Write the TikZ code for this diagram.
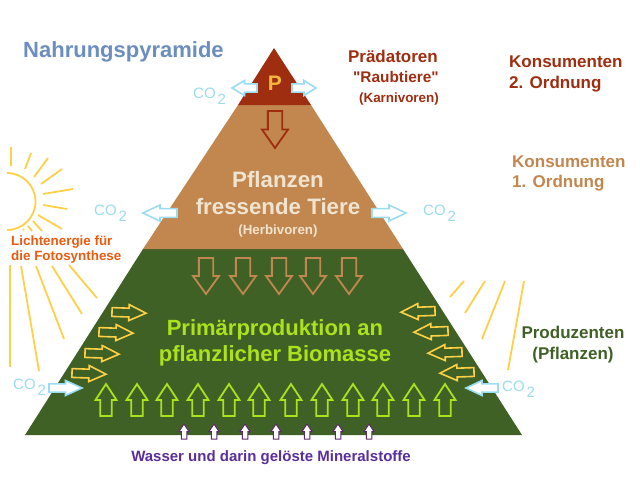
\documentclass[tikz,border=0pt]{standalone}
\usepackage{fontspec}
\setmainfont{Liberation Sans}[Ligatures=TeXOff]
\usetikzlibrary{positioning}

\definecolor{tierred}{HTML}{9F2D10}
\definecolor{tierbrown}{HTML}{C1874F}
\definecolor{tiergreen}{HTML}{406126}
\definecolor{titleblue}{HTML}{6C8EBF}
\definecolor{coblue}{HTML}{9ADCF0}
\definecolor{sunyellow}{HTML}{FFD045}
\definecolor{lime}{HTML}{ABE21C}
\definecolor{orangetext}{HTML}{EB5A10}
\definecolor{purpletext}{HTML}{5B2D9A}
\definecolor{plum}{HTML}{5E2A6E}
\definecolor{cream}{HTML}{F0E4D0}
\definecolor{palep}{HTML}{F5B83D}

\newcommand{\cotwo}{CO\kern2pt\raisebox{-6pt}{2}}
\newcommand{\fs}[1]{\fontsize{#1}{#1}\selectfont}

\tikzset{
  hollowarrow/.pic={
    \draw[pic actions] (0,-.275) -- (.5,-.275) -- (.5,-.5) -- (1,0) -- (.5,.5) -- (.5,.275) -- (0,.275) -- cycle;
  },
  label/.style={inner sep=0pt, font=\bfseries},
  coarrow/.style={draw=coblue, fill=white, line width=1.6pt},
  colabel/.style={inner sep=0pt, anchor=west, text=coblue, font=\fs{15}},
  sunray/.style={draw=sunyellow, line width=1.8pt},
  limearrow/.style={draw=lime, line width=1.8pt},
  brownarrow/.style={draw=tierbrown, line width=1.8pt},
  yellowarrow/.style={draw=sunyellow, line width=1.6pt},
  plumarrow/.style={draw=plum, fill=white, line width=1pt},
}

\begin{document}
\begin{tikzpicture}[x=1pt,y=-1pt]
    \useasboundingbox (0,0) rectangle (640,479);

    \fill[tiergreen] (143,249) -- (403,249) -- (522,435) -- (25,435) -- cycle;
    \fill[tierbrown] (238,105) -- (311,105) -- (403,249) -- (143,249) -- cycle;
    \fill[tierred] (274,48) -- (311,105) -- (238,105) -- cycle;

    \draw[sunray] (7,173) arc[start angle=-90, end angle=90, radius=28.5];
    \foreach \xa/\ya/\xb/\yb in {10.7/147/10.7/166, 31/153/25/169, 48/158/34/177, 62/169/41/184,
        73/189/43/194, 67/209/43/205, 62/229/38/215, 42/231/33/221, 32/231/28/226, 24/230/23/229,
        10/265/10/367, 21/266/39/371, 36/266/64/339, 52/266/82/314, 69/265/97/298,
        464/281/450/297, 485/281/465/313, 505/281/482/339, 524/281/508/370}
      \draw[sunray] (\xa,\ya) -- (\xb,\yb);

    \pic[draw=tierred, line width=1.8pt, rotate=-90, xscale=37, yscale=26] at (275,111) {hollowarrow};
    \foreach \x in {206,243,279,313,349}
      \pic[brownarrow, rotate=-90, xscale=36, yscale=26] at (\x,258) {hollowarrow};
    \foreach \x in {106,137,167,198,229,259,291,322,353,383,414,445}
      \pic[limearrow, rotate=90, xscale=32, yscale=21] at (\x,416) {hollowarrow};
    \foreach \x in {184,214,245,276,307,338,369}
      \pic[plumarrow, rotate=90, xscale=15, yscale=10] at (\x,439) {hollowarrow};
    \foreach \x/\y in {112/312,99/332,85/353,72/373}
      \pic[yellowarrow, rotate=-2, xscale=34, yscale=16] at (\x,\y) {hollowarrow};
    \foreach \x/\y in {435/311,448/331,462/352,474/372}
      \pic[yellowarrow, rotate=182, xscale=34, yscale=16] at (\x,\y) {hollowarrow};

    \pic[coarrow, rotate=180, xscale=25, yscale=15] at (257,88) {hollowarrow};
    \pic[coarrow, xscale=24, yscale=15] at (292,88) {hollowarrow};
    \pic[coarrow, rotate=180, xscale=34, yscale=16] at (177,213) {hollowarrow};
    \pic[coarrow, xscale=34, yscale=16] at (372,213) {hollowarrow};
    \pic[coarrow, xscale=33, yscale=15] at (49,388) {hollowarrow};
    \pic[coarrow, rotate=180, xscale=32, yscale=15] at (498,388) {hollowarrow};

    \node[colabel] (cotop) at (193,96) {\cotwo};
    \node[colabel] (coleft) at (94,213) {\cotwo};
    \node[colabel] (coright) at (423,213) {\cotwo};
    \node[colabel] (colow) at (13,387) {\cotwo};
    \node[colabel] (colowr) at (502,389) {\cotwo};

    \node[label, anchor=west, text=titleblue, font=\bfseries\fs{22}] (title) at (23,52) {Nahrungspyramide};
    \node[label, text=palep, font=\bfseries\fs{21}] (p) at (275,83) {P};

    \node[label, anchor=east, text=tierred, font=\bfseries\fs{17}] (praedatoren) at (438,56) {Prädatoren};
    \node[label, anchor=east, text=tierred, font=\bfseries\fs{15.4}] (raubtiere) at (439,77) {"Raubtiere"};
    \node[label, text=tierred, font=\bfseries\fs{13.4}, below=10pt of raubtiere.south east, anchor=north east] (karnivoren) {(Karnivoren)};

    \node[label, anchor=west, align=left, text=tierred, font=\bfseries\fs{17}] (kons2) at (509,74) {Konsumenten\\[3.5pt]2. Ordnung};
    \node[label, anchor=west, align=left, text=tierbrown, font=\bfseries\fs{17}] (kons1) at (512,173.5) {Konsumenten\\[3.5pt]1. Ordnung};

    \node[label, align=center, text=cream, font=\bfseries\fs{22.3}] (pflanzen) at (278,193) {Pflanzen\\[5.5pt]fressende Tiere};
    \node[label, text=cream, font=\bfseries\fs{13.3}] (herbivoren) at (278,231) {(Herbivoren)};

    \node[label, anchor=west, align=left, text=orangetext, font=\bfseries\fs{13.4}] (licht) at (11,250) {Lichtenergie für\\[1.6pt]die Fotosynthese};

    \node[label, align=center, text=lime, font=\bfseries\fs{22}] (primaer) at (275,343) {Primärproduktion an\\[4pt]pflanzlicher Biomasse};

    \node[label, align=center, text=tiergreen, font=\bfseries\fs{17}] (produzenten) at (573,345) {Produzenten\\[4pt](Pflanzen)};

    \node[label, text=purpletext, font=\bfseries\fs{15}] (wasser) at (271,458) {Wasser und darin gelöste Mineralstoffe};
\end{tikzpicture}
\end{document}
